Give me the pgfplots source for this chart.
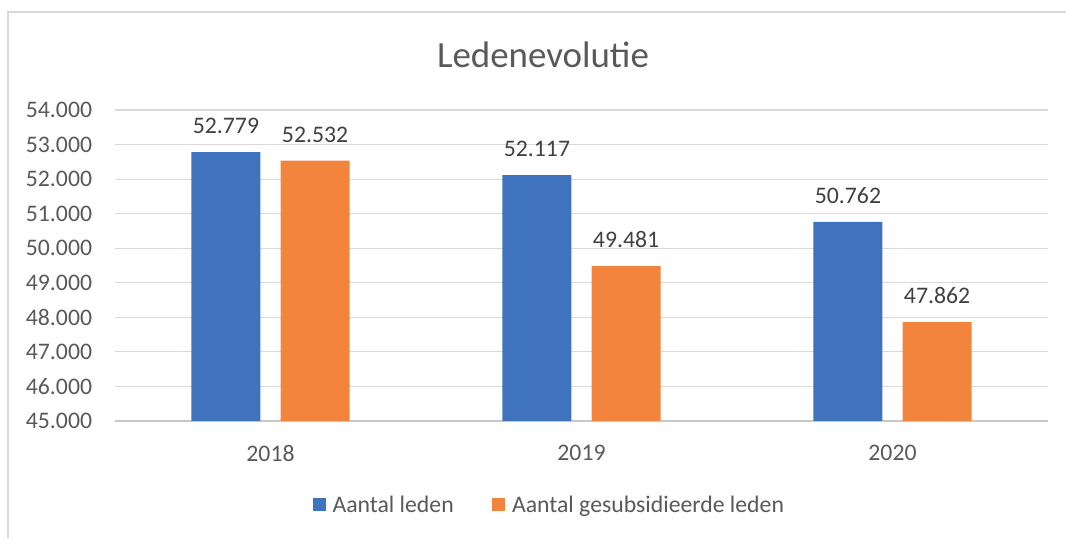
\documentclass[border=0pt]{standalone}
\usepackage{pgfplots}
\pgfplotsset{compat=1.18}
\usepackage{fontspec}
\setmainfont{Carlito}
\definecolor{cblue}{HTML}{3F73BE}
\definecolor{corange}{HTML}{F3843D}
\definecolor{tickgray}{HTML}{595959}
\definecolor{labgray}{HTML}{404040}
\definecolor{gridgray}{HTML}{D9D9D9}
\definecolor{axgray}{HTML}{C8C8C8}
\begin{document}
\begin{tikzpicture}
\useasboundingbox (0pt,0pt) rectangle (799.5pt,403.5pt);
\draw[gridgray, line width=0.9pt] (6pt,0pt) -- (6pt,394.5pt) -- (799.5pt,394.5pt);
\node[anchor=base, text=tickgray, font=\fontsize{27.7}{32}\selectfont] at (407.25pt,352.5pt) {Ledenevolutie};
\begin{axis}[
  at={(86.25pt,87.75pt)}, anchor=south west,
  scale only axis, width=699.75pt, height=233.25pt,
  xmin=-0.5, xmax=2.5, ymin=45000, ymax=54000,
  enlargelimits=false,
  ytick={45000,46000,...,54000},
  scaled y ticks=false,
  xtick={0,1,2}, xticklabels={2018,2019,2020},
  /pgf/number format/.cd, assume math mode=true, 1000 sep={.}, fixed, precision=0, /pgfplots/.cd,
  axis line style={draw=none},
  major tick length=0pt,
  ymajorgrids, grid style={gridgray, line width=0.8pt},
  extra y ticks={45000}, extra y tick labels={},
  extra y tick style={grid style={axgray, line width=1.3pt}},
  yticklabel style={anchor=east, inner sep=0pt, xshift=-17pt, text=tickgray, font=\fontsize{17.8}{20}\selectfont},
  xticklabel style={anchor=north, inner sep=0pt, yshift=-18pt, text=tickgray, font=\fontsize{17.8}{20}\selectfont},
  ybar, bar width=51.75pt,
  nodes near coords,
  point meta=y,
  every node near coord/.append style={anchor=south, inner sep=0pt, yshift=13.5pt, text=labgray, font=\fontsize{17.8}{20}\selectfont, /pgf/number format/.cd, assume math mode=true, 1000 sep={.}, fixed, precision=0},
  legend columns=2,
  legend style={at={(0.466,-0.27)}, anchor=center, draw=none, fill=none,
    font=\fontsize{17.8}{20}\selectfont, text=tickgray,
    /tikz/every odd column/.style={column sep=3pt},
    /tikz/every even column/.style={column sep=27pt}},
  legend image code/.code={\fill[#1] (0pt,-4.9pt) rectangle (9.75pt,5.1pt);},
]
\addplot[fill=cblue, draw=none, bar shift=-33.4pt] coordinates {(0,52779) (1,52117) (2,50762)};
\addplot[fill=corange, draw=none, bar shift=33.4pt] coordinates {(0,52532) (1,49481) (2,47862)};
\legend{Aantal leden, Aantal gesubsidieerde leden}
\end{axis}
\end{tikzpicture}
\end{document}
